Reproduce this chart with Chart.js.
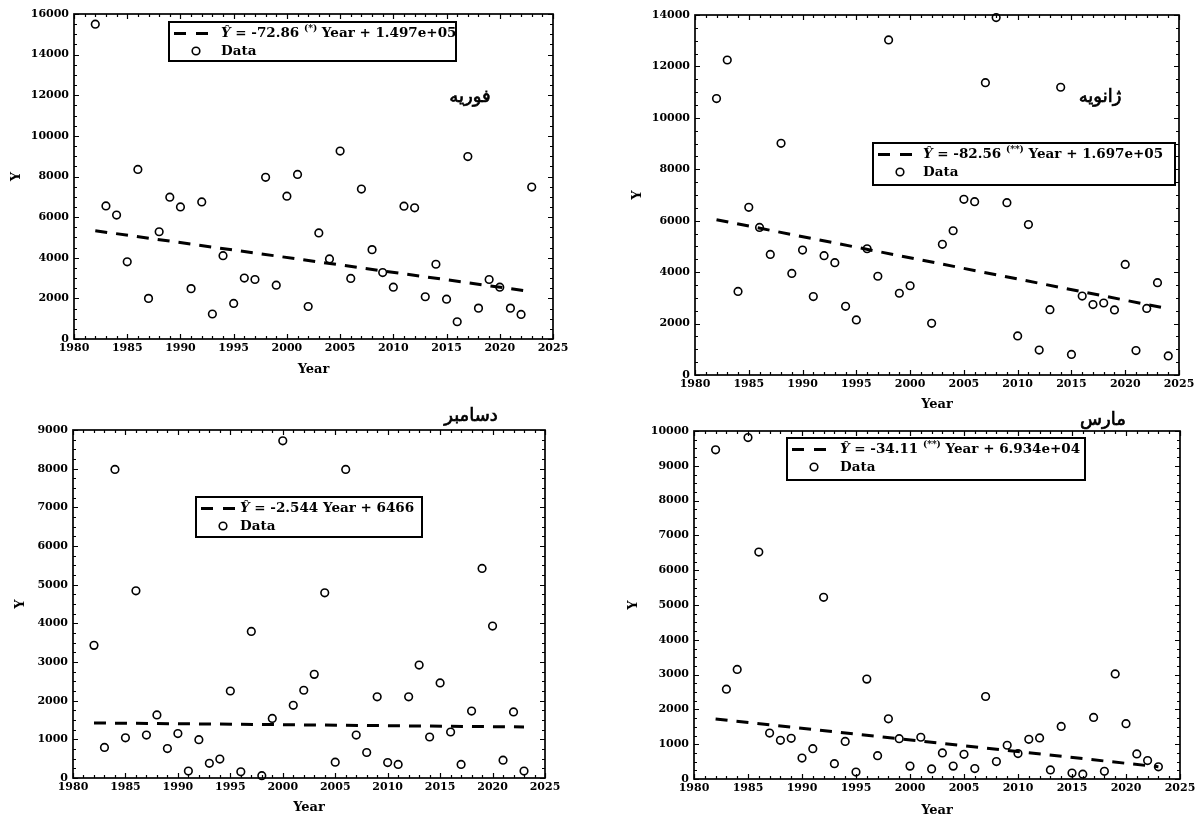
<!DOCTYPE html>
<html><head><meta charset="utf-8">
<script src="https://cdn.jsdelivr.net/npm/chart.js@4.4.0/dist/chart.umd.min.js"></script>
<style>
html,body{margin:0;padding:0;background:#fff;width:1198px;height:821px;overflow:hidden}
body{position:relative}
canvas{position:absolute}
</style></head><body>
<canvas id="cFeb"></canvas>
<canvas id="cJan"></canvas>
<canvas id="cDec"></canvas>
<canvas id="cMar"></canvas>
<script>
// ---------- data ----------
const yearsFeb = [1982,1983,1984,1985,1986,1987,1988,1989,1990,1991,1992,1993,1994,1995,1996,1997,1998,1999,2000,2001,2002,2003,2004,2005,2006,2007,2008,2009,2010,2011,2012,2013,2014,2015,2016,2017,2018,2019,2020,2021,2022,2023];
const valuesFeb = [15500,6550,6100,3800,8350,2000,5280,6980,6500,2480,6750,1230,4100,1750,3000,2930,7960,2650,7030,8100,1600,5220,3940,9250,2980,7380,4400,3270,2550,6540,6460,2080,3680,1960,850,8980,1520,2930,2550,1520,1210,7480];
const trendFebX = [1982,2023];
const trendFebY = [5330,2330];

const yearsJan = [1982,1983,1984,1985,1986,1987,1988,1989,1990,1991,1992,1993,1994,1995,1996,1997,1998,1999,2000,2002,2003,2004,2005,2006,2007,2008,2009,2010,2011,2012,2013,2014,2015,2016,2017,2018,2019,2020,2021,2022,2023,2024];
const valuesJan = [10750,12250,3250,6520,5740,4690,9010,3950,4860,3050,4640,4370,2670,2140,4910,3840,13030,3180,3470,2010,5080,5610,6830,6740,11370,13900,6700,1520,5850,970,2540,11190,800,3070,2740,2800,2530,4300,950,2590,3590,740];
const trendJanX = [1982,2024];
const trendJanY = [6040,2580];

const yearsDec = [1982,1983,1984,1985,1986,1987,1988,1989,1990,1991,1992,1993,1994,1995,1996,1997,1998,1999,2000,2001,2002,2003,2004,2005,2006,2007,2008,2009,2010,2011,2012,2013,2014,2015,2016,2017,2018,2019,2020,2021,2022,2023];
const valuesDec = [3430,790,7980,1040,4840,1110,1630,760,1150,180,990,380,490,2250,160,3790,60,1540,8720,1880,2270,2680,4790,410,7980,1110,660,2100,400,350,2100,2920,1060,2460,1190,350,1730,5420,3930,460,1710,180];
const trendDecX = [1982,2023];
const trendDecY = [1424,1320];

const yearsMar = [1982,1983,1984,1985,1986,1987,1988,1989,1990,1991,1992,1993,1994,1995,1996,1997,1998,1999,2000,2001,2002,2003,2004,2005,2006,2007,2008,2009,2010,2011,2012,2013,2014,2015,2016,2017,2018,2019,2020,2021,2022,2023];
const valuesMar = [9460,2580,3150,9810,6520,1320,1110,1170,600,870,5220,440,1080,200,2870,670,1730,1160,370,1200,290,750,370,710,300,2370,500,970,730,1140,1180,260,1510,170,140,1770,220,3020,1590,720,530,350];
const trendMarX = [1982,2023];
const trendMarY = [1725,350];

const xTickRange = [1980,2025];      // x axis min / max, labelled every 5
const yMaxFeb = 16000, yStepFeb = 2000;
const yMaxJan = 14000, yStepJan = 2000;
const yMaxDec = 9000,  yStepDec = 1000;
const yMaxMar = 10000, yStepMar = 1000;

const monthFeb = 'فوریه', monthJan = 'ژانویه', monthDec = 'دسامبر', monthMar = 'مارس';
const eqFeb = {coef:'-72.86', sig:'(*)',  icpt:'1.497e+05'};
const eqJan = {coef:'-82.56', sig:'(**)', icpt:'1.697e+05'};
const eqDec = {coef:'-2.544', sig:'',     icpt:'6466'};
const eqMar = {coef:'-34.11', sig:'(**)', icpt:'6.934e+04'};

// ---------- layout (page pixels) ----------
const SERIF = '"DejaVu Serif", "Liberation Serif", serif';
const TITLE_SIZE = 13, LH = TITLE_SIZE * 1.2;

const panels = [
  {id:'cFeb', years:yearsFeb, values:valuesFeb, tx:trendFebX, ty:trendFebY, yMax:yMaxFeb, yStep:yStepFeb, month:monthFeb, eq:eqFeb,
   canvas:{x:0,y:0,w:590,h:395}, plot:{l:74,t:14,r:553,b:339}, yTitleX:17, xTitleY:370, monthPos:[470,97],
   legend:{x:169,y:22,w:287,h:39,textOff:52}},
  {id:'cJan', years:yearsJan, values:valuesJan, tx:trendJanX, ty:trendJanY, yMax:yMaxJan, yStep:yStepJan, month:monthJan, eq:eqJan,
   canvas:{x:600,y:0,w:598,h:420}, plot:{l:695,t:15,r:1179,b:375}, yTitleX:638, xTitleY:405, monthPos:[1100,97],
   legend:{x:873,y:143,w:302,h:42,textOff:50}},
  {id:'cDec', years:yearsDec, values:valuesDec, tx:trendDecX, ty:trendDecY, yMax:yMaxDec, yStep:yStepDec, month:monthDec, eq:eqDec,
   canvas:{x:0,y:398,w:590,h:423}, plot:{l:73,t:430,r:545,b:778}, yTitleX:21, xTitleY:808, monthPos:[471,416],
   legend:{x:196,y:497,w:226,h:40,textOff:44}},
  {id:'cMar', years:yearsMar, values:valuesMar, tx:trendMarX, ty:trendMarY, yMax:yMaxMar, yStep:yStepMar, month:monthMar, eq:eqMar,
   canvas:{x:600,y:398,w:598,h:423}, plot:{l:694,t:431,r:1180,b:779}, yTitleX:634, xTitleY:811, monthPos:[1103,420],
   legend:{x:787,y:438,w:298,h:42,textOff:53}}
];

// frame + inward ticks on all four sides, legend box and month label
const framePlugin = {
  id:'frameTicks',
  afterDatasetsDraw(chart, args, o) {
    const ctx = chart.ctx, a = chart.chartArea;
    const xs = chart.scales.x, ys = chart.scales.y;
    ctx.save();
    ctx.strokeStyle = '#000';
    ctx.lineWidth = 1.2;
    ctx.beginPath();
    for (let v = xs.min; v <= xs.max; v += 1) {
      const px = Math.round(xs.getPixelForValue(v)) + 0.5;
      const len = (v % 5 === 0) ? 5 : 3;
      ctx.moveTo(px, a.bottom); ctx.lineTo(px, a.bottom - len);
      ctx.moveTo(px, a.top); ctx.lineTo(px, a.top + len);
    }
    const minor = o.yStep / 4;
    for (let v = 0; v <= ys.max + 1e-6; v += minor) {
      const py = Math.round(ys.getPixelForValue(v)) + 0.5;
      const len = (Math.abs(v % o.yStep) < 1e-6) ? 5 : 3;
      ctx.moveTo(a.left, py); ctx.lineTo(a.left + len, py);
      ctx.moveTo(a.right, py); ctx.lineTo(a.right - len, py);
    }
    ctx.stroke();
    ctx.lineWidth = 1.7;
    ctx.strokeRect(a.left, a.top, a.right - a.left, a.bottom - a.top);
    ctx.restore();
  },
  afterDraw(chart, args, o) {
    const ctx = chart.ctx, P = o.panel, L = P.legend, eq = P.eq;
    const ox = P.canvas.x, oy = P.canvas.y;
    ctx.save();
    // month label (Persian)
    ctx.fillStyle = '#000'; ctx.strokeStyle = '#000'; ctx.lineWidth = 0.7;
    ctx.font = '18px "DejaVu Sans", sans-serif';
    ctx.direction = 'rtl';
    ctx.textAlign = 'center'; ctx.textBaseline = 'middle';
    ctx.fillText(P.month, P.monthPos[0] - ox, P.monthPos[1] - oy);
    ctx.strokeText(P.month, P.monthPos[0] - ox, P.monthPos[1] - oy);
    ctx.direction = 'ltr';
    // legend box
    const x = L.x - ox, y = L.y - oy;
    ctx.fillStyle = '#fff'; ctx.fillRect(x, y, L.w, L.h);
    ctx.strokeStyle = '#000'; ctx.lineWidth = 2; ctx.strokeRect(x, y, L.w, L.h);
    const r1 = y + 11.5, r2 = y + 29;
    ctx.setLineDash([12, 10]); ctx.lineWidth = 3;
    ctx.beginPath(); ctx.moveTo(x + 5, r1); ctx.lineTo(x + 40, r1); ctx.stroke();
    ctx.setLineDash([]); ctx.lineWidth = 1.6;
    ctx.beginPath(); ctx.arc(x + 27, r2, 3.8, 0, Math.PI * 2); ctx.stroke();
    ctx.fillStyle = '#000'; ctx.textAlign = 'left'; ctx.textBaseline = 'middle';
    let tx = x + L.textOff;
    ctx.font = 'italic bold 13.5px ' + SERIF;
    ctx.fillText('Ŷ', tx, r1); tx += ctx.measureText('Ŷ').width;
    ctx.font = 'bold 13.5px ' + SERIF;
    let s = ' = ' + eq.coef + ' ';
    ctx.fillText(s, tx, r1); tx += ctx.measureText(s).width;
    if (eq.sig) {
      ctx.font = 'bold 9px ' + SERIF;
      ctx.fillText(eq.sig, tx, r1 - 5); tx += ctx.measureText(eq.sig).width;
      ctx.font = 'bold 13.5px ' + SERIF;
      s = ' Year + ' + eq.icpt;
    } else {
      s = 'Year + ' + eq.icpt;
    }
    ctx.fillText(s, tx, r1);
    ctx.fillText('Data', x + L.textOff, r2);
    ctx.restore();
  }
};

function makeChart(P) {
  const c = document.getElementById(P.id);
  c.width = P.canvas.w; c.height = P.canvas.h;
  c.style.left = P.canvas.x + 'px'; c.style.top = P.canvas.y + 'px';
  c.style.width = P.canvas.w + 'px'; c.style.height = P.canvas.h + 'px';
  const yAxisW = P.plot.l - P.canvas.x;
  const xAxisH = (P.xTitleY + LH / 2) - P.plot.b;
  const tickFont = {family: SERIF, weight: 'bold', size: 11};
  const titleFont = {family: SERIF, weight: 'bold', size: TITLE_SIZE};
  new Chart(c, {
    type: 'scatter',
    data: {
      datasets: [
        {type: 'line', data: P.tx.map((v, i) => ({x: v, y: P.ty[i]})),
         borderColor: '#000', borderWidth: 3, borderDash: [12, 9], pointRadius: 0, fill: false, tension: 0},
        {type: 'scatter', data: P.years.map((v, i) => ({x: v, y: P.values[i]})),
         borderColor: '#000', backgroundColor: 'rgba(0,0,0,0)', pointRadius: 3.8, pointBorderWidth: 1.6,
         pointHoverRadius: 3.8, clip: false}
      ]
    },
    options: {
      responsive: false, animation: false, devicePixelRatio: 1,
      layout: {padding: {left: 0, top: P.plot.t - P.canvas.y, right: P.canvas.x + P.canvas.w - P.plot.r,
                         bottom: P.canvas.y + P.canvas.h - (P.xTitleY + LH / 2)}},
      plugins: {legend: {display: false}, tooltip: {enabled: false},
                frameTicks: {yStep: P.yStep, panel: P}},
      scales: {
        x: {type: 'linear', position: 'bottom', min: xTickRange[0], max: xTickRange[1],
            grid: {display: false, drawTicks: false}, border: {display: false},
            ticks: {stepSize: 5, autoSkip: false, maxRotation: 0, padding: 3, color: '#000', font: tickFont,
                    callback: v => String(v)},
            title: {display: true, text: 'Year', color: '#000', font: titleFont, padding: {top: 0, bottom: 0}},
            afterFit: s => { s.height = xAxisH; s.paddingLeft = 0; s.paddingRight = 0; }},
        y: {type: 'linear', position: 'left', min: 0, max: P.yMax,
            grid: {display: false, drawTicks: false}, border: {display: false},
            ticks: {stepSize: P.yStep, autoSkip: false, padding: 5, color: '#000', font: tickFont,
                    callback: v => String(v)},
            title: {display: true, text: 'Y', color: '#000', font: titleFont,
                    padding: {top: P.yTitleX - P.canvas.x - LH / 2, bottom: 0}},
            afterFit: s => { s.width = yAxisW; s.paddingTop = 0; s.paddingBottom = 0; }}
      }
    },
    plugins: [framePlugin]
  });
}
panels.forEach(makeChart);
</script>
</body></html>
